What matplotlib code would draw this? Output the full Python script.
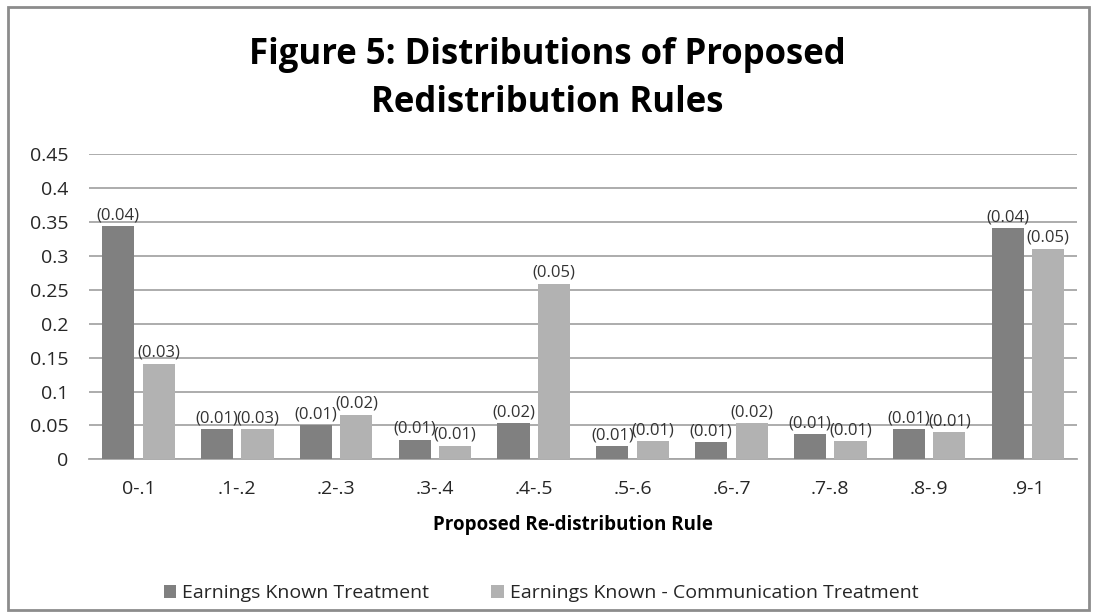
import matplotlib.pyplot as plt
import matplotlib.patches as mpatches
import numpy as np

plt.rcParams['font.family'] = ['Open Sans', 'DejaVu Sans']

categories = ['0-.1', '.1-.2', '.2-.3', '.3-.4', '.4-.5', '.5-.6', '.6-.7', '.7-.8', '.8-.9', '.9-1']
known = [0.344, 0.045, 0.050, 0.029, 0.053, 0.019, 0.025, 0.037, 0.045, 0.341]
known_comm = [0.141, 0.045, 0.066, 0.020, 0.259, 0.027, 0.053, 0.027, 0.040, 0.311]
known_se = ['(0.04)', '(0.01)', '(0.01)', '(0.01)', '(0.02)', '(0.01)', '(0.01)', '(0.01)', '(0.01)', '(0.04)']
comm_se = ['(0.03)', '(0.03)', '(0.02)', '(0.01)', '(0.05)', '(0.01)', '(0.02)', '(0.01)', '(0.01)', '(0.05)']

dark = '#808080'
light = '#b2b2b2'
grid = '#a6a6a6'

fig = plt.figure(figsize=(10.94, 6.16), dpi=100)
ax = fig.add_axes([0.0814, 0.2544, 0.9034, 0.4951])

x = np.arange(len(categories))
w = 0.325
b1 = ax.bar(x - 0.205, known, w, color=dark, label='Earnings Known Treatment', zorder=3)
b2 = ax.bar(x + 0.205, known_comm, w, color=light, label='Earnings Known - Communication Treatment', zorder=3)

# standard errors above each bar
for bars, labs in ((b1, known_se), (b2, comm_se)):
    for r, t in zip(bars, labs):
        ax.annotate(t, (r.get_x() + r.get_width() / 2, r.get_height()), xytext=(0, 2),
                    textcoords='offset points', ha='center', va='bottom', fontsize=12, color='#333333')

ax.set_xlim(-0.5, len(categories) - 0.5)
ax.set_ylim(0, 0.45)
ax.set_yticks(np.arange(0, 0.451, 0.05))
ax.set_yticklabels(['0', '0.05', '0.1', '0.15', '0.2', '0.25', '0.3', '0.35', '0.4', '0.45'])
ax.set_xticks(x)
ax.set_xticklabels(categories)
ax.yaxis.grid(True, color=grid, linewidth=1.3, zorder=0)
ax.tick_params(axis='both', length=0, labelsize=14, colors='#262626')
ax.tick_params(axis='x', pad=15)
ax.tick_params(axis='y', pad=15)
for s in ['top', 'right', 'left']:
    ax.spines[s].set_visible(False)
ax.spines['bottom'].set_color(grid)
ax.spines['bottom'].set_linewidth(1.3)

ax.set_xlabel('Proposed Re-distribution Rule', fontsize=13.5, fontweight='bold', va='center')
ax.xaxis.set_label_coords(573 / 1094, 1 - 525 / 616, transform=fig.transFigure)

fig.text(0.5, 0.872, 'Figure 5: Distributions of Proposed\nRedistribution Rules', ha='center', va='center',
         fontsize=25, fontweight='bold', linespacing=1.45)

fig.legend(handles=[b1, b2], loc='center', bbox_to_anchor=(0.4945, 0.037), ncol=2, frameon=False,
           fontsize=14, handlelength=0.65, handleheight=0.65, handletextpad=0.3, columnspacing=3.2,
           labelcolor='#262626')

fig.patches.append(mpatches.Rectangle((8 / 1094, 6 / 616), 1081 / 1094, 603 / 616, transform=fig.transFigure,
                                      fill=False, edgecolor='#8c8c8c', linewidth=2))

fig.savefig('out.png', dpi=100)
